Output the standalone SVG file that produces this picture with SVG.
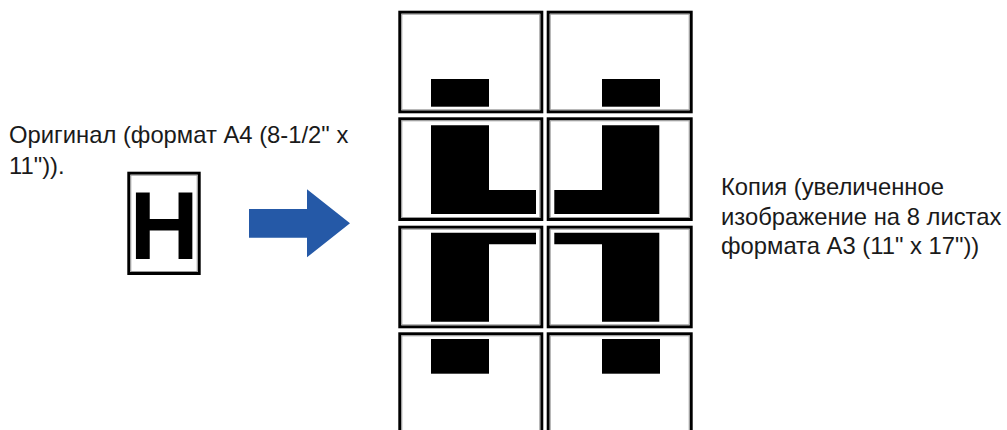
<svg xmlns="http://www.w3.org/2000/svg" width="1007" height="430" viewBox="0 0 1007 430">
  <defs>
    <style>
      .lbl { font-family: "Liberation Sans", Arial, sans-serif; font-size: 23.8px; fill: #1a1a1a; }
      .cell { fill: #ffffff; stroke: #000000; stroke-width: 3; }
      .cellin { fill: none; stroke: #9a9a9a; stroke-width: 1; }
      .blk { fill: #000000; }
    </style>
  </defs>
  <rect width="1007" height="430" fill="#ffffff"/>

  <g id="original-label">
    <text class="lbl" x="9" y="143">Оригинал (формат A4 (8-1/2" x</text>
    <text class="lbl" x="9" y="173.5">11")).</text>
  </g>

  <g id="original-doc">
    <rect class="cell" x="128.8" y="173.2" width="70.4" height="100.3"/>
    <rect class="cellin" x="130.8" y="175.2" width="66.4" height="96.3"/>
    <text x="164.2" y="259" text-anchor="middle" style="font-family: 'Liberation Sans', Arial, sans-serif; font-weight: bold; font-size: 96px; fill: #000;">H</text>
  </g>

  <g id="connectors">
    <polygon id="arrow" points="249,209 307,209 307,189.3 350,223.3 307,257.3 307,237.7 249,237.7" fill="#2559a7"/>
  </g>

  <g id="copy-grid">
    <g id="sheet-1-1">
      <rect class="cell" x="399.8" y="12.2" width="142" height="99.6"/>
      <rect class="cellin" x="401.8" y="14.2" width="138" height="95.6"/>
      <rect class="blk" x="431" y="79" width="58" height="27.7"/>
    </g>
    <g id="sheet-1-2">
      <rect class="cell" x="548.2" y="12.2" width="143" height="99.6"/>
      <rect class="cellin" x="550.2" y="14.2" width="139" height="95.6"/>
      <rect class="blk" x="602" y="79" width="58" height="27.7"/>
    </g>
    <g id="sheet-2-1">
      <rect class="cell" x="399.8" y="118.8" width="142" height="100.7"/>
      <rect class="cellin" x="401.8" y="120.8" width="138" height="96.7"/>
      <polygon class="blk" points="431,125.3 489,125.3 489,190 536,190 536,214 431,214"/>
    </g>
    <g id="sheet-2-2">
      <rect class="cell" x="548.2" y="118.8" width="143" height="100.7"/>
      <rect class="cellin" x="550.2" y="120.8" width="139" height="96.7"/>
      <polygon class="blk" points="602,125.3 659.3,125.3 659.3,214 554.3,214 554.3,190 602,190"/>
    </g>
    <g id="sheet-3-1">
      <rect class="cell" x="399.8" y="227.2" width="142" height="99.6"/>
      <rect class="cellin" x="401.8" y="229.2" width="138" height="95.6"/>
      <polygon class="blk" points="431,232.7 536,232.7 536,244.3 489,244.3 489,321.7 431,321.7"/>
    </g>
    <g id="sheet-3-2">
      <rect class="cell" x="548.2" y="227.2" width="143" height="99.6"/>
      <rect class="cellin" x="550.2" y="229.2" width="139" height="95.6"/>
      <polygon class="blk" points="554.3,232.7 659.3,232.7 659.3,321.7 602,321.7 602,244.3 554.3,244.3"/>
    </g>
    <g id="sheet-4-1">
      <rect class="cell" x="399.8" y="333.8" width="142" height="110"/>
      <rect class="cellin" x="401.8" y="335.8" width="138" height="110"/>
      <rect class="blk" x="431" y="339" width="58" height="34.7"/>
    </g>
    <g id="sheet-4-2">
      <rect class="cell" x="548.2" y="333.8" width="143" height="110"/>
      <rect class="cellin" x="550.2" y="335.8" width="139" height="110"/>
      <rect class="blk" x="602" y="339" width="58" height="34.7"/>
    </g>
  </g>

  <g id="copy-label">
    <text class="lbl" x="721" y="194.5">Копия (увеличенное</text>
    <text class="lbl" x="721" y="224.5">изображение на 8 листах</text>
    <text class="lbl" x="721" y="254">формата A3 (11" x 17"))</text>
  </g>
</svg>
